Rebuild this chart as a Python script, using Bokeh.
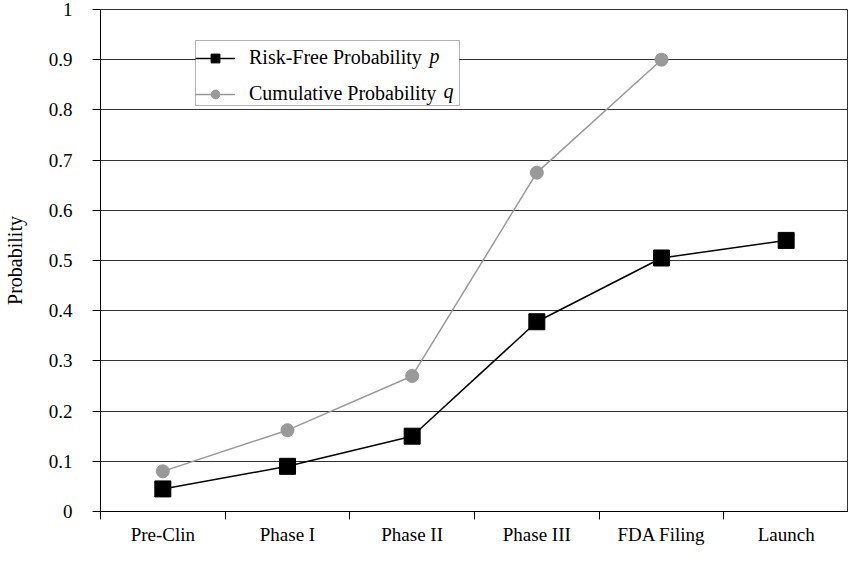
from bokeh.plotting import figure
from bokeh.models import FixedTicker, Legend, LegendItem, ColumnDataSource, Label, BoxAnnotation
from bokeh.embed import file_html
from bokeh.resources import INLINE

categories = ["Pre-Clin", "Phase I", "Phase II", "Phase III", "FDA Filing", "Launch"]
risk_free_p = [0.045, 0.09, 0.15, 0.378, 0.505, 0.54]
cumulative_q = [0.08, 0.162, 0.27, 0.675, 0.90]
y_ticks = [0, 0.1, 0.2, 0.3, 0.4, 0.5, 0.6, 0.7, 0.8, 0.9, 1.0]
y_tick_labels = ["0", "0.1", "0.2", "0.3", "0.4", "0.5", "0.6", "0.7", "0.8", "0.9", "1"]
legend_names = ["Risk-Free Probability", "Cumulative Probability"]
legend_symbols = ["p", "q"]

FONT = "Liberation Serif"

x_centers = [i + 0.5 for i in range(len(categories))]
x_bounds = list(range(len(categories) + 1))

p = figure(width=848, height=547, output_backend="svg", toolbar_location=None,
           x_range=(0, len(categories)), y_range=(0, 1),
           min_border_left=100, min_border_right=0, min_border_top=9, min_border_bottom=34)
p.background_fill_color = "white"
p.border_fill_color = "white"
p.outline_line_color = "#333333"
p.outline_line_width = 1

src_p = ColumnDataSource(dict(x=x_centers, y=risk_free_p))
src_q = ColumnDataSource(dict(x=x_centers[:len(cumulative_q)], y=cumulative_q))

lq = p.line("x", "y", source=src_q, line_color="#999999", line_width=1.5)
cq = p.scatter("x", "y", source=src_q, marker="circle", size=13, fill_color="#999999", line_color="#999999")
lp = p.line("x", "y", source=src_p, line_color="black", line_width=1.5)
sp = p.scatter("x", "y", source=src_p, marker="square", size=16, fill_color="black", line_color="black")

# X axis
p.xaxis.ticker = FixedTicker(ticks=x_centers, minor_ticks=x_bounds)
p.xaxis.major_label_overrides = {c: lab for c, lab in zip(x_centers, categories)}
p.xaxis.major_tick_out = 0
p.xaxis.major_tick_in = 0
p.xaxis.minor_tick_out = 8
p.xaxis.minor_tick_in = 0
p.xaxis.minor_tick_line_color = "black"
p.xaxis.axis_line_color = "black"
p.xaxis.major_label_text_font = FONT
p.xaxis.major_label_text_font_size = "19px"
p.xaxis.major_label_text_color = "black"
p.xaxis.major_label_standoff = 4
p.xgrid.visible = False

# Y axis
p.yaxis.ticker = FixedTicker(ticks=y_ticks, minor_ticks=[])
p.yaxis.major_label_overrides = {t: lab for t, lab in zip(y_ticks, y_tick_labels)}
p.yaxis.major_tick_out = 8
p.yaxis.major_tick_in = 0
p.yaxis.major_tick_line_color = "black"
p.yaxis.axis_line_color = "black"
p.yaxis.major_label_text_font = FONT
p.yaxis.major_label_text_font_size = "19px"
p.yaxis.major_label_text_color = "black"
p.yaxis.major_label_standoff = 20
p.yaxis.axis_label = "Probability"
p.yaxis.axis_label_text_font = FONT
p.yaxis.axis_label_text_font_size = "20px"
p.yaxis.axis_label_text_font_style = "normal"
p.yaxis.axis_label_text_color = "black"
p.yaxis.axis_label_standoff = 20
p.ygrid.ticker = FixedTicker(ticks=y_ticks)
p.ygrid.grid_line_color = "#333333"
p.ygrid.grid_line_width = 1

# legend box (white, masks gridlines) drawn under a transparent legend
LEG_LEFT, LEG_BOTTOM, LEG_W, LEG_H = 95, 406, 264, 65
p.add_layout(BoxAnnotation(left=LEG_LEFT, right=LEG_LEFT + LEG_W, bottom=LEG_BOTTOM, top=LEG_BOTTOM + LEG_H,
                           left_units="screen", right_units="screen", bottom_units="screen", top_units="screen",
                           fill_color="white", fill_alpha=1, line_color="black", line_width=1,
                           editable=False))

legend = Legend(items=[
    LegendItem(label=legend_names[0], renderers=[lp, sp]),
    LegendItem(label=legend_names[1], renderers=[lq, cq]),
], location=(LEG_LEFT, LEG_BOTTOM))
legend.label_text_font = FONT
legend.label_text_font_size = "20px"
legend.label_text_color = "black"
legend.border_line_color = None
legend.background_fill_alpha = 0
legend.glyph_width = 40
legend.glyph_height = 22
legend.label_height = 22
legend.label_width = 202
legend.label_standoff = 14
legend.spacing = 13
legend.padding = 4
legend.margin = 0
p.add_layout(legend, "center")

# italic symbols after the legend names (screen units, frame-relative)
p.add_layout(Label(x=329, y=LEG_BOTTOM + LEG_H - 15, x_units="screen", y_units="screen", text=legend_symbols[0],
                   text_font=FONT, text_font_size="20px", text_font_style="italic",
                   text_baseline="middle", text_color="black"))
p.add_layout(Label(x=343, y=LEG_BOTTOM + LEG_H - 50, x_units="screen", y_units="screen", text=legend_symbols[1],
                   text_font=FONT, text_font_size="20px", text_font_style="italic",
                   text_baseline="middle", text_color="black"))

open("out.html", "w").write(file_html(p, INLINE))
